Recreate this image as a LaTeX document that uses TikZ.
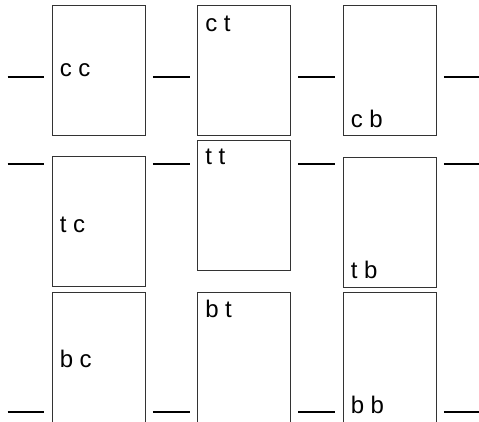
\documentclass[tikz,border=0pt]{standalone}
\usepackage{fontspec}
\setmainfont{Liberation Sans}
\definecolor{boxline}{HTML}{333333}
\tikzset{
  pbox/.style={draw=boxline,line width=0.9pt,minimum width=93pt,minimum height=130pt,inner sep=0pt},
  plabel/.style={anchor=base west,inner sep=0pt,font=\fontsize{24}{24}\selectfont},
  baserule/.style={line width=2.6pt,shorten <=7.5pt,shorten >=7.5pt}
}

\begin{document}
\begin{tikzpicture}[x=1pt,y=1pt]
  \useasboundingbox (0,0) rectangle (479,421);
  % c row
  \node[pbox] (cc) at (98.5,350.5) {};
  \node[pbox] (ct) at (244,350.5) {};
  \node[pbox] (cb) at (389.5,350.5) {};
  % t row
  \node[pbox] (tc) at (98.5,199.5) {};
  \node[pbox] (tt) at (244,215.5) {};
  \node[pbox] (tb) at (389.5,199) {};
  % b row
  \node[pbox] (bc) at (98.5,63.5) {};
  \node[pbox] (bt) at (244,63.5) {};
  \node[pbox] (bb) at (389.5,63.5) {};

  \node[plabel] (lcc) at ([shift={(8,-6.5)}]cc.west) {c c};
  \node[plabel] (lct) at ([shift={(8,-26.5)}]ct.north west) {c t};
  \node[plabel] (lcb) at ([shift={(8,8.5)}]cb.south west) {c b};
  \node[plabel] (ltc) at ([shift={(8,-10.5)}]tc.west) {t c};
  \node[plabel] (ltt) at ([shift={(8,-24.5)}]tt.north west) {t t};
  \node[plabel] (ltb) at ([shift={(8,9)}]tb.south west) {t b};
  \node[plabel] (lbc) at ([shift={(8,-9.5)}]bc.west) {b c};
  \node[plabel] (lbt) at ([shift={(8,-25.5)}]bt.north west) {b t};
  \node[plabel] (lbb) at ([shift={(8,9.5)}]bb.south west) {b b};

  \coordinate (crow) at (0,344);
  \coordinate (trow) at (0,257);
  \coordinate (brow) at (0,9);
  \coordinate (cend) at (488,344);
  \coordinate (tend) at (488,257);
  \coordinate (bend) at (488,9);
  \foreach \p/\q in {crow/cc.west,cc.east/ct.west,ct.east/cb.west,cb.east/cend}
    \draw[baserule] (\p|-crow) -- (\q|-crow);
  \foreach \p/\q in {trow/tc.west,tc.east/tt.west,tt.east/tb.west,tb.east/tend}
    \draw[baserule] (\p|-trow) -- (\q|-trow);
  \foreach \p/\q in {brow/bc.west,bc.east/bt.west,bt.east/bb.west,bb.east/bend}
    \draw[baserule] (\p|-brow) -- (\q|-brow);
\end{tikzpicture}
\end{document}
